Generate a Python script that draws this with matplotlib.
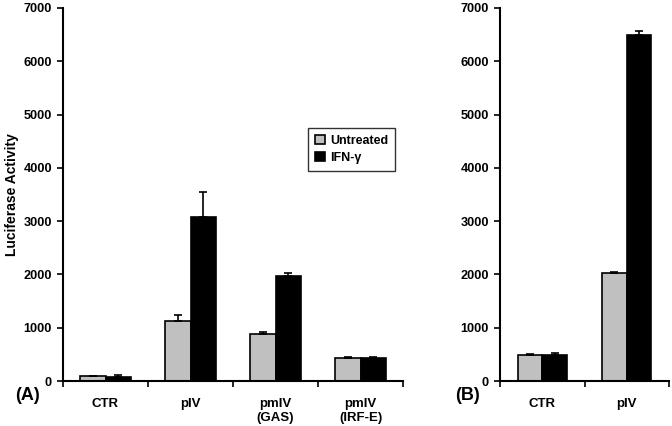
import matplotlib.pyplot as plt
import numpy as np

plt.rcParams['font.family'] = ['Liberation Sans', 'DejaVu Sans']
plt.rcParams['font.weight'] = 'bold'

# panel A
cats_a = ['CTR', 'pIV', 'pmIV\n(GAS)', 'pmIV\n(IRF-E)']
untr_a = [85, 1120, 885, 425]
untr_a_err = [10, 120, 40, 20]
ifn_a = [75, 3070, 1975, 430]
ifn_a_err = [40, 480, 45, 15]

# panel B
cats_b = ['CTR', 'pIV']
untr_b = [490, 2020]
untr_b_err = [20, 30]
ifn_b = [480, 6490]
ifn_b_err = [45, 85]

grey = '#c0c0c0'

fig = plt.figure(figsize=(6.72, 4.26), dpi=100)
ax1 = fig.add_axes([63/672, 1-381/426, 340/672, 373/426])
ax2 = fig.add_axes([500/672, 1-381/426, 169/672, 373/426])


def draw(ax, cats, u, ue, f, fe, w):
    x = np.arange(len(cats)) + 0.5
    ax.bar(x - w/2, u, w, color=grey, edgecolor='black', linewidth=1.2,
           yerr=[np.zeros(len(u)), ue], error_kw=dict(ecolor='black', elinewidth=1.2, capsize=3, capthick=1.2),
           label='Untreated', zorder=2)
    ax.bar(x + w/2, f, w, color='black', edgecolor='black', linewidth=1.2,
           yerr=[np.zeros(len(f)), fe], error_kw=dict(ecolor='black', elinewidth=1.2, capsize=3, capthick=1.2),
           label='IFN-\u03b3', zorder=2)
    ax.set_xlim(0, len(cats))
    ax.set_ylim(0, 7000)
    ax.set_yticks(np.arange(0, 7001, 1000))
    ax.set_xticks(np.arange(len(cats) + 1))
    ax.set_xticklabels([])
    ax.set_xticks(x, minor=True)
    ax.set_xticklabels(cats, minor=True, fontsize=9.5, fontweight='bold', linespacing=1.25)
    ax.tick_params(axis='x', which='minor', length=0, pad=12)
    ax.tick_params(axis='x', which='major', length=4, width=1.2, direction='out')
    ax.tick_params(axis='y', length=4, width=1.2, direction='out', labelsize=9.2, pad=4)
    for lab in ax.get_yticklabels():
        lab.set_fontweight('bold')
    ax.spines['top'].set_visible(False)
    ax.spines['right'].set_visible(False)
    ax.spines['left'].set_linewidth(1.5)
    ax.spines['bottom'].set_linewidth(1.5)


draw(ax1, cats_a, untr_a, untr_a_err, ifn_a, ifn_a_err, 0.3)
draw(ax2, cats_b, untr_b, untr_b_err, ifn_b, ifn_b_err, 0.29)

ax1.set_ylabel('Luciferase Activity', fontsize=10, fontweight='bold', labelpad=3)

leg = ax1.legend(loc='upper left', bbox_to_anchor=(245/340, (381-127.7)/373),
                 borderaxespad=0, frameon=True, fancybox=False, edgecolor='black',
                 handlelength=0.8, handleheight=0.8, handletextpad=0.4,
                 borderpad=0.55, labelspacing=0.4, prop={'weight': 'bold', 'size': 9})
leg.get_frame().set_linewidth(1.0)

fig.text(15/672, 1-396/426, '(A)', fontsize=13, fontweight='bold', va='center')
fig.text(455/672, 1-396/426, '(B)', fontsize=13, fontweight='bold', va='center')

fig.savefig('out.png', dpi=100)
